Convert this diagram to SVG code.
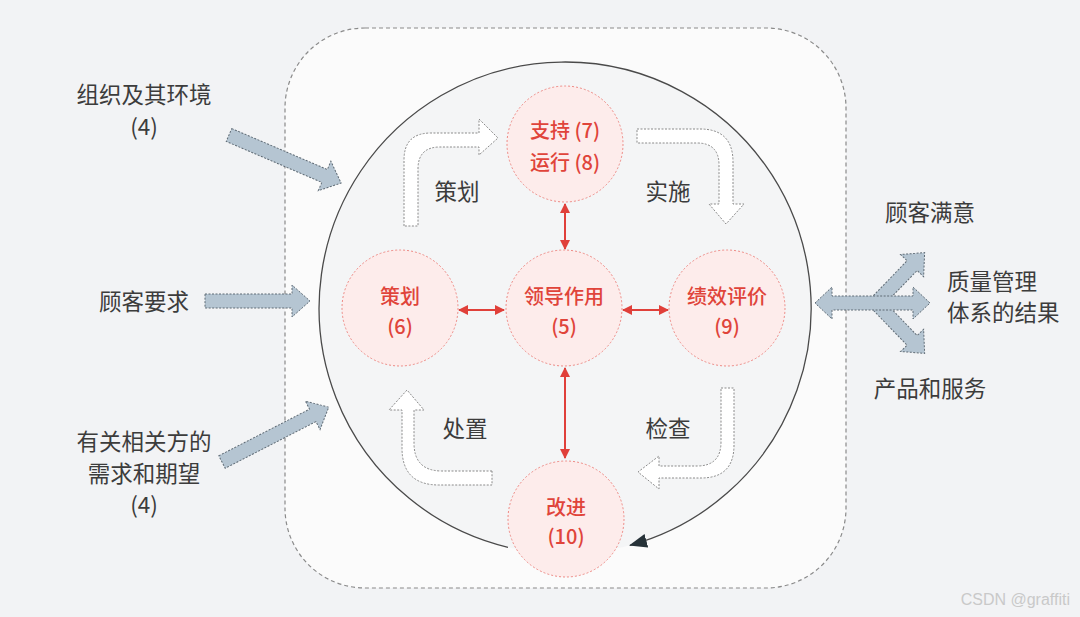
<svg xmlns="http://www.w3.org/2000/svg" width="1080" height="617" viewBox="0 0 1080 617">
<style>
.lbl{font-family:"Noto Sans CJK SC","Noto Sans",sans-serif;font-size:22.5px;fill:#3c3c3c;text-anchor:middle;dominant-baseline:central}
.lbll{font-family:"Noto Sans CJK SC","Noto Sans",sans-serif;font-size:22.5px;fill:#3c3c3c;text-anchor:start;dominant-baseline:central}
.nt{font-family:"Noto Sans CJK SC","Noto Sans",sans-serif;font-size:20px;font-weight:500;fill:#e0443a;text-anchor:middle;dominant-baseline:central}
.node{fill:#fdeceb;stroke:#ee8a85;stroke-width:1;stroke-dasharray:2 2}
.hollow{fill:#ffffff;stroke:#8a8a8a;stroke-width:1;stroke-dasharray:2 1.5}
.gb{fill:#b5c5d2;stroke:#5f6b75;stroke-width:1;stroke-dasharray:2 1.5}
.red{stroke:#e0403a;stroke-width:2;fill:none;marker-start:url(#rh);marker-end:url(#rh)}
</style>
<defs>
<marker id="rh" viewBox="0 0 10 10" refX="9" refY="5" markerWidth="10" markerHeight="10" markerUnits="userSpaceOnUse" orient="auto-start-reverse">
<path d="M0,0 L10,5 L0,10 Z" fill="#e0403a"/>
</marker>
<marker id="dk" viewBox="0 0 18 14" refX="17" refY="7" markerWidth="18" markerHeight="14" markerUnits="userSpaceOnUse" orient="auto">
<path d="M0,0 L18,7 L0,14 Z" fill="#263238"/>
</marker>
</defs>
<rect x="0" y="0" width="1080" height="617" fill="#f2f3f5"/>
<rect id="boundary" x="285" y="28" width="561" height="560" rx="80" ry="80" fill="#fbfbfb" stroke="#8a8a8a" stroke-width="1.2" stroke-dasharray="4 3"/>
<circle id="cycle" cx="565" cy="308" r="246" fill="#f4f5f6" stroke="none"/>

<g id="connectors">
<path d="M508,547.3 A246,246 0 1 1 630,545.3" fill="none" stroke="#4a4a4a" stroke-width="1.3" marker-end="url(#dk)"/>
<line class="red" x1="565" y1="204" x2="565" y2="249"/>
<line class="red" x1="565" y1="368" x2="565" y2="458"/>
<line class="red" x1="459" y1="310" x2="504" y2="310"/>
<line class="red" x1="623" y1="310" x2="668" y2="310"/>
<path class="hollow" d="M404,226 L404,160 Q404,133 431,133 L479,133 L479,119 L498,138 L479,155 L479,147 L440,147 Q418,147 418,169 L418,226 Z"/>
<path class="hollow" d="M637,129 L700,129 Q733,129 733,162 L733,204 L744,204 L726,224 L709,204 L719,204 L719,165 Q719,143 697,143 L637,143 Z"/>
<path class="hollow" d="M721,388 L734,388 L734,445 Q734,478 701,478 L659,478 L659,489 L638,472 L659,456 L659,466 L697,466 Q721,466 721,442 Z"/>
<path class="hollow" d="M492,471 L442,471 Q414,471 414,443 L414,410 L424,410 L407,390 L389,410 L402,410 L402,448 Q402,485 439,485 L492,485 Z"/>
<polygon class="gb" transform="translate(229,135) rotate(23.2)" points="0,-7 104,-7 104,-16 122,0 104,16 104,7 0,7"/>
<polygon class="gb" transform="translate(205,301)" points="0,-7 87,-7 87,-16 105,0 87,16 87,7 0,7"/>
<polygon class="gb" transform="translate(222,462) rotate(-27.2)" points="0,-7 102,-7 102,-16 120,0 102,16 102,7 0,7"/>
<polygon class="gb" transform="translate(876,303) rotate(-46)" points="0,-7 52,-7 52,-16 70,0 52,16 52,7 0,7"/>
<polygon class="gb" transform="translate(876,303) rotate(46)" points="0,-7 52,-7 52,-16 70,0 52,16 52,7 0,7"/>
<polygon class="gb" points="815,303 832,287 832,296 913,296 913,287 930,303 913,319 913,310 832,310 832,319"/>
</g>

<g id="n-support"><circle class="node" cx="565" cy="144" r="58"/><text class="nt" x="565" y="129">支持 (7)</text><text class="nt" x="565" y="161">运行 (8)</text></g>
<g id="n-plan"><circle class="node" cx="400" cy="308" r="58"/><text class="nt" x="400" y="295">策划</text><text class="nt" x="400" y="325">(6)</text></g>
<g id="n-lead"><circle class="node" cx="564" cy="308" r="58"/><text class="nt" x="564" y="295">领导作用</text><text class="nt" x="564" y="325">(5)</text></g>
<g id="n-eval"><circle class="node" cx="727" cy="308" r="58"/><text class="nt" x="727" y="295">绩效评价</text><text class="nt" x="727" y="325">(9)</text></g>
<g id="n-improve"><circle class="node" cx="566" cy="519" r="58"/><text class="nt" x="566" y="506">改进</text><text class="nt" x="566" y="535">(10)</text></g>

<g id="labels">
<text class="lbl" x="457" y="190">策划</text>
<text class="lbl" x="668" y="190">实施</text>
<text class="lbl" x="465" y="427">处置</text>
<text class="lbl" x="668" y="427">检查</text>
<text class="lbl" x="144" y="93">组织及其环境</text>
<text class="lbl" x="144" y="125">(4)</text>
<text class="lbl" x="144" y="300">顾客要求</text>
<text class="lbl" x="144" y="440">有关相关方的</text>
<text class="lbl" x="144" y="472">需求和期望</text>
<text class="lbl" x="144" y="503">(4)</text>
<text class="lbl" x="930" y="211">顾客满意</text>
<text class="lbll" x="947" y="280">质量管理</text>
<text class="lbll" x="947" y="311">体系的结果</text>
<text class="lbl" x="930" y="387">产品和服务</text>
</g>
<text x="1070" y="605" font-family="Liberation Sans, Arial, sans-serif" font-size="16" fill="#c9c9c9" text-anchor="end">CSDN @graffiti</text>
</svg>
